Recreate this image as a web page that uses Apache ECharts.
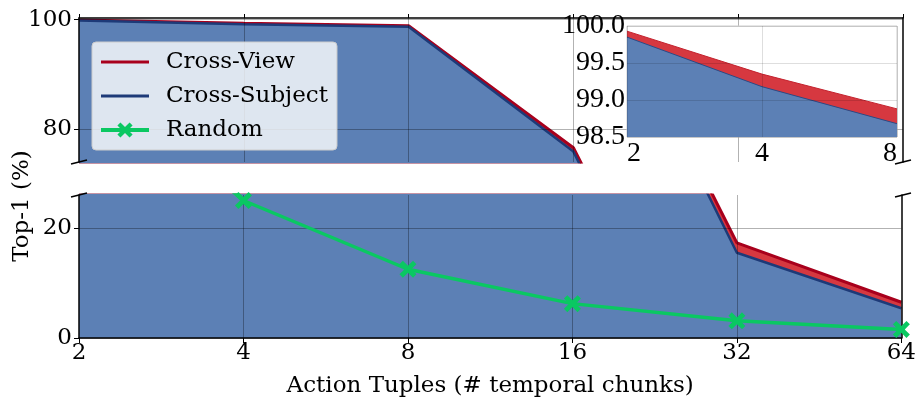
<!DOCTYPE html>
<html>
<head>
<meta charset="utf-8">
<script src="https://cdn.jsdelivr.net/npm/echarts@6/dist/echarts.min.js"></script>
<style>
html,body{margin:0;padding:0;background:#fff;}
#chart{width:919px;height:399px;}
</style>
</head>
<body>
<div id="chart"></div>
<script>
// ---- data ----
const categories = ['2', '4', '8', '16', '32', '64'];
const crossView = [99.93, 99.35, 98.88, 76.6, 17.3, 6.5];
const crossSubject = [99.85, 99.18, 98.68, 75.9, 15.5, 5.4];
const randomChance = [50, 25, 12.5, 6.25, 3.125, 1.5625];
const insetCategories = categories.slice(0, 3);
const insetCrossView = crossView.slice(0, 3);
const insetCrossSubject = crossSubject.slice(0, 3);
const topTicks = [80, 100];
const bottomTicks = [0, 20];
const topRange = [74, 100.3];
const bottomRange = [0, 26];
const insetRange = [98.5, 100.0];
const insetInterval = 0.5;

// ---- styles ----
const FONT = 'DejaVu Serif';
const IFONT = 'Liberation Serif';
const FS = 23;
const RED_LINE = '#a8001c';
const RED_FILL = '#d63840';
const BLUE_LINE = '#1d3a78';
const BLUE_FILL = '#5c80b5';
const GREEN = '#0ac862';
const GRIDLINE = 'rgba(0,0,0,0.3)';
const xShape = 'path://M0,2 L2,0 L5,3 L8,0 L10,2 L7,5 L10,8 L8,10 L5,7 L2,10 L0,8 L3,5 Z';
const barIcon = 'path://M0,0 H48 V3 H0 Z';

const chart = echarts.init(document.getElementById('chart'), null, {renderer: 'canvas'});

const gridLines = (ticks) => ({
  silent: true,
  symbol: ['none', 'none'],
  label: {show: false},
  animation: false,
  lineStyle: {color: GRIDLINE, width: 1, type: 'solid'},
  data: ticks.map(v => ({yAxis: v})).concat(categories.slice(1, -1).map(c => ({xAxis: c})))
});

const spineY = (gridIndex, range, pos) => ({
  type: 'value', gridIndex, position: pos, min: range[0], max: range[1], z: 6,
  axisLine: {show: true, lineStyle: {color: '#000', width: 1.5}},
  axisTick: {show: false}, axisLabel: {show: false}, splitLine: {show: false}
});

const option = {
  animation: false,
  backgroundColor: '#fff',
  grid: [
    {left: 79, right: 16, top: 18, height: 144},
    {left: 79, right: 16, top: 195, height: 144},
    {left: 627, width: 270, top: 26, height: 111, show: true, backgroundColor: '#fff',
     borderColor: '#cccccc', borderWidth: 1, z: 20}
  ],
  legend: {
    data: [
      {name: 'Cross-View', icon: barIcon},
      {name: 'Cross-Subject', icon: barIcon},
      {name: 'Random', lineStyle: {width: 4}}
    ],
    orient: 'vertical',
    left: 92, top: 42,
    padding: [8, 9, 8, 7],
    itemWidth: 48, itemHeight: 19, itemGap: 10,
    backgroundColor: 'rgba(255,255,255,0.8)',
    borderColor: '#cccccc', borderWidth: 1, borderRadius: 4,
    z: 40,
    textStyle: {fontFamily: FONT, fontSize: FS, color: '#000', lineHeight: 24, padding: [0, 0, 0, 12]}
  },
  xAxis: [
    {type: 'category', gridIndex: 0, data: categories, boundaryGap: false, position: 'top', z: 6,
     axisLine: {show: true, onZero: false, lineStyle: {color: '#000', width: 1.5}},
     axisTick: {show: true, inside: false, length: 4, lineStyle: {color: '#000'}},
     axisLabel: {show: false}, splitLine: {show: false}},
    {type: 'category', gridIndex: 1, data: categories, boundaryGap: false, position: 'bottom', z: 6,
     axisLine: {show: true, onZero: false, lineStyle: {color: '#000', width: 1.5}},
     axisTick: {show: true, inside: false, length: 5, lineStyle: {color: '#000'}},
     axisLabel: {fontFamily: FONT, fontSize: FS, color: '#000', margin: 4},
     name: 'Action Tuples (# temporal chunks)', nameLocation: 'middle', nameGap: 37,
     nameTextStyle: {fontFamily: FONT, fontSize: FS, color: '#000'},
     splitLine: {show: false}},
    {type: 'category', gridIndex: 2, data: insetCategories, boundaryGap: false, z: 30,
     axisLine: {show: false}, axisTick: {show: false},
     axisLabel: {fontFamily: IFONT, fontSize: 28, color: '#000', margin: 3,
                 alignMinLabel: 'left', alignMaxLabel: 'right'},
     splitLine: {show: true, lineStyle: {color: 'rgba(0,0,0,0.13)', width: 1}}}
  ],
  yAxis: [
    {type: 'value', gridIndex: 0, min: topRange[0], max: topRange[1], z: 6,
     axisLine: {show: true, lineStyle: {color: '#000', width: 1.5}},
     axisTick: {show: true, length: 5, customValues: topTicks, lineStyle: {color: '#000'}},
     axisLabel: {customValues: topTicks, fontFamily: FONT, fontSize: FS, color: '#000', margin: 7},
     splitLine: {show: false}},
    {type: 'value', gridIndex: 1, min: bottomRange[0], max: bottomRange[1], z: 6,
     axisLine: {show: true, onZero: false, lineStyle: {color: '#000', width: 1.5}},
     axisTick: {show: true, length: 5, customValues: bottomTicks, lineStyle: {color: '#000'}},
     axisLabel: {customValues: bottomTicks, fontFamily: FONT, fontSize: FS, color: '#000', margin: 7},
     splitLine: {show: false}},
    {type: 'value', gridIndex: 2, min: insetRange[0], max: insetRange[1], interval: insetInterval, z: 30,
     axisLine: {show: false}, axisTick: {show: false},
     axisLabel: {fontFamily: IFONT, fontSize: 28, color: '#000', margin: 2,
                 formatter: v => v.toFixed(1)},
     splitLine: {show: true, lineStyle: {color: 'rgba(0,0,0,0.13)', width: 1}}},
    spineY(0, topRange, 'right'),
    spineY(1, bottomRange, 'right')
  ],
  series: [
    {name: 'Cross-View', type: 'line', xAxisIndex: 0, yAxisIndex: 0, data: crossView, symbol: 'none',
     lineStyle: {color: RED_LINE, width: 3}, itemStyle: {color: RED_LINE},
     areaStyle: {color: RED_FILL, opacity: 1, origin: bottomRange[0]}, z: 2},
    {name: 'Cross-Subject', type: 'line', xAxisIndex: 0, yAxisIndex: 0, data: crossSubject, symbol: 'none',
     lineStyle: {color: BLUE_LINE, width: 2.5}, itemStyle: {color: BLUE_LINE},
     areaStyle: {color: BLUE_FILL, opacity: 1, origin: bottomRange[0]}, z: 3,
     markLine: gridLines(topTicks)},
    {name: 'Cross-View', type: 'line', xAxisIndex: 1, yAxisIndex: 1, data: crossView, symbol: 'none',
     lineStyle: {color: RED_LINE, width: 3}, itemStyle: {color: RED_LINE},
     areaStyle: {color: RED_FILL, opacity: 1, origin: 'start'}, z: 2},
    {name: 'Cross-Subject', type: 'line', xAxisIndex: 1, yAxisIndex: 1, data: crossSubject, symbol: 'none',
     lineStyle: {color: BLUE_LINE, width: 2.5}, itemStyle: {color: BLUE_LINE},
     areaStyle: {color: BLUE_FILL, opacity: 1, origin: 'start'}, z: 3,
     markLine: gridLines(bottomTicks)},
    {name: 'Random', type: 'line', xAxisIndex: 1, yAxisIndex: 1, data: randomChance,
     symbol: xShape, symbolSize: 17, showAllSymbol: true,
     lineStyle: {color: GREEN, width: 3.5}, itemStyle: {color: GREEN}, z: 10},
    {name: 'Cross-View', type: 'line', xAxisIndex: 2, yAxisIndex: 2, data: insetCrossView, symbol: 'none',
     lineStyle: {color: '#c4222e', width: 1}, itemStyle: {color: RED_LINE},
     areaStyle: {color: RED_FILL, opacity: 1, origin: 'start'}, z: 24},
    {name: 'Cross-Subject', type: 'line', xAxisIndex: 2, yAxisIndex: 2, data: insetCrossSubject, symbol: 'none',
     lineStyle: {color: '#2a4a86', width: 1}, itemStyle: {color: BLUE_LINE},
     areaStyle: {color: BLUE_FILL, opacity: 1, origin: 'start'}, z: 25}
  ]
};

chart.setOption(option);

// break marks + y title
const xL = chart.convertToPixel({xAxisIndex: 0}, categories[0]);
const xR = chart.convertToPixel({xAxisIndex: 0}, categories[categories.length - 1]);
const yTopPanelBottom = chart.convertToPixel({yAxisIndex: 0}, topRange[0]);
const yBottomPanelTop = chart.convertToPixel({yAxisIndex: 1}, bottomRange[1]);
const marks = [];
[[xL, yTopPanelBottom], [xR, yTopPanelBottom], [xL, yBottomPanelTop], [xR, yBottomPanelTop]].forEach(([x, y]) => {
  marks.push({type: 'line', z: 50, silent: true,
    shape: {x1: x - 8, y1: y + 2, x2: x + 8, y2: y - 2},
    style: {stroke: '#000', lineWidth: 1.5}});
});
marks.push({type: 'text', z: 50, silent: true, x: 22, y: 206, rotation: Math.PI / 2,
  style: {text: 'Top-1 (%)', fontFamily: FONT, fontSize: FS, fill: '#000', align: 'center', verticalAlign: 'middle'}});
chart.setOption({graphic: marks});
</script>
</body>
</html>
